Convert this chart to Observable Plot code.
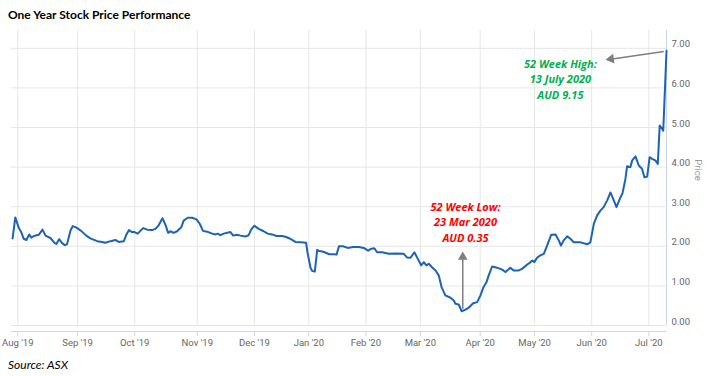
<!DOCTYPE html>
<html><head><meta charset="utf-8">
<script src="https://cdn.jsdelivr.net/npm/d3@7"></script>
<script src="https://cdn.jsdelivr.net/npm/@observablehq/plot@0.6"></script>
<style>
body{margin:0;background:#fff;}
#wrap{width:712px;height:376px;overflow:hidden;}
#title{height:24px;box-sizing:border-box;padding:8px 0 0 8px;font:bold 12px/14px Lato,sans-serif;color:#000;}
#caption{height:20px;box-sizing:border-box;padding:2px 0 0 8px;font:italic 12px/14px Lato,sans-serif;color:#000;}
svg{display:block}
</style></head><body>
<div id="wrap"><div id="title">One Year Stock Price Performance</div><div id="chart"></div><div id="caption">Source: ASX</div></div>
<script>
// trading-day index (0 = 30 Jul 2019) and closing price (AUD)
const dayIdx = [0.1,1.1,2.4,3.2,4.2,5.2,6.2,7.0,7.9,9.7,
11.1,12.2,14.0,15.6,16.2,17.2,18.3,19.3,20.1,21.4,
22.2,23.6,25.3,27.2,28.7,31.2,33.0,34.2,36.1,37.9,
39.1,41.0,41.9,42.9,44.0,44.9,46.1,48.1,49.6,51.4,
52.6,53.8,55.2,56.3,57.3,58.1,59.3,60.6,62.1,63.0,
64.5,66.1,67.7,68.9,70.1,71.6,73.5,74.7,75.5,76.5,
77.7,79.0,80.2,81.2,82.6,83.9,85.7,86.9,87.8,89.0,
90.6,92.4,93.9,95.5,97.1,99.2,100.4,102.2,104.1,106.2,
108.0,108.5,109.6,110.2,111.2,112.1,112.8,114.0,115.5,116.5,
118.2,119.2,120.1,121.6,123.3,125.3,127.4,129.2,130.8,132.0,
133.1,134.1,136.0,137.2,138.4,140.8,143.9,145.1,146.4,147.8,
148.8,150.3,151.3,152.2,153.1,154.3,155.6,156.8,157.8,159.2,
161.1,162.3,162.9,164.1,165.2,166.6,167.8,169.4,170.9,172.1,
173.3,174.3,175.1,176.4,178.2,180.1,181.3,183.1,184.3,186.2,
187.4,189.3,190.2,191.1,191.9,192.9,194.1,195.4,196.6,198.1,
199.7,200.9,201.7,202.7,204.0,205.2,206.4,208.9,211.3,212.5,
213.8,215.0,216.2,217.4,218.7,219.9,220.9,222.1,223.6,224.3,
225.4,226.0,227.2,227.9,229.1,230.3,231.5,232.4,233.4,234.3,
235.2,236.4,237.3,238.0,238.9,239.3,240.5];
const price = [2.20,2.73,2.46,2.37,2.19,2.16,2.30,2.22,2.26,2.29,
2.42,2.27,2.21,2.08,2.06,2.18,2.08,2.03,2.05,2.40,
2.51,2.47,2.39,2.27,2.20,2.13,2.11,2.09,2.13,2.16,
2.11,2.13,2.29,2.41,2.36,2.36,2.32,2.46,2.42,2.41,
2.44,2.53,2.71,2.54,2.34,2.38,2.34,2.38,2.48,2.65,
2.72,2.72,2.68,2.57,2.39,2.37,2.32,2.30,2.32,2.28,
2.32,2.34,2.36,2.27,2.29,2.27,2.25,2.28,2.42,2.52,
2.44,2.38,2.32,2.30,2.26,2.26,2.24,2.19,2.11,2.10,
2.09,1.85,1.47,1.38,1.36,1.91,1.88,1.87,1.83,1.80,
1.80,1.79,2.00,2.00,1.96,1.98,1.98,1.96,1.89,1.94,
1.95,1.85,1.85,1.83,1.81,1.82,1.81,1.72,1.71,1.85,
1.72,1.52,1.60,1.52,1.56,1.47,1.39,1.26,0.97,0.76,
0.70,0.63,0.55,0.53,0.36,0.40,0.45,0.56,0.59,0.76,
0.98,1.09,1.26,1.49,1.46,1.41,1.35,1.46,1.39,1.39,
1.43,1.54,1.58,1.64,1.60,1.71,1.77,1.81,2.02,2.29,
2.30,2.15,2.02,2.15,2.25,2.19,2.10,2.10,2.05,2.10,
2.57,2.78,2.90,2.99,3.16,3.36,3.20,2.99,3.24,3.33,
3.70,4.02,4.00,4.17,4.27,4.04,3.96,3.74,3.76,4.25,
4.21,4.17,4.08,5.05,4.97,4.92,6.94];
const monthTickIdx = [2,24,45,68,89,109,130,150,172,192,213,234];
const monthLabels = ["Aug '19","Sep '19","Oct '19","Nov '19","Dec '19","Jan '20","Feb '20","Mar '20","Apr '20","May '20","Jun '20","Jul '20"];
const priceTicks = [0,1,2,3,4,5,6,7];
const lowNote = ["52 Week Low:","23 Mar 2020","AUD 0.35"];
const highNote = ["52 Week High:","13 July 2020","AUD 9.15"];
// annotation anchors in chart units
const lowNoteAt = [166.6, 2.63];
const highNoteAt = [201.5, 6.24];
const arrowLines = [
  {x1:165.6, y1:0.42, x2:165.6, y2:1.76},
  {x1:239.5, y1:6.92, x2:220.6, y2:6.73}
];
const arrowHeads = [
  {x:165.6, y:1.73, angle:0},
  {x:220.1, y:6.73, angle:-98.4}
];

const series = dayIdx.map((d,i)=>({idx:d, price:price[i]}));
const labelOf = new Map(monthTickIdx.map((d,i)=>[d, monthLabels[i]]));
const axisFont = "Roboto, 'Liberation Sans', sans-serif";
const noteFont = "'Open Sans', Lato, sans-serif";

const chart = Plot.plot({
  width: 712, height: 332,
  marginLeft: 11, marginRight: 46, marginTop: 6, marginBottom: 31,
  style: {fontFamily: axisFont, background: "#fff"},
  x: {domain: [-0.3, 240.5], axis: null},
  y: {domain: [0, 7.45], axis: null},
  marks: [
    Plot.ruleX(monthTickIdx, {stroke: "#e6e6e6", strokeWidth: 1}),
    Plot.ruleY(priceTicks, {stroke: "#e6e6e6", strokeWidth: 1}),
    Plot.ruleY([0], {dy: 6, stroke: "#ccd6eb"}),
    Plot.ruleX([240.5], {stroke: "#ccd6eb"}),
    Plot.axisX(monthTickIdx, {anchor: "bottom", dy: 6, tickSize: 5, tickPadding: 3,
      tickFormat: d => labelOf.get(d), stroke: "#ccd6eb", fill: "#666", fontSize: 9.5, label: null}),
    Plot.axisY(priceTicks, {anchor: "right", tickSize: 0, tickPadding: 5, dy: -4,
      tickFormat: d => d.toFixed(2), fill: "#666", fontSize: 9.5, label: null}),
    Plot.text(["Price"], {frameAnchor: "right", dx: 32, dy: -8, rotate: 90, textAnchor: "middle",
      fill: "#999", fontSize: 9.5}),
    Plot.line(series, {x: "idx", y: "price", stroke: "#1c63b7", strokeWidth: 2, strokeLinejoin: "round"}),
    Plot.link(arrowLines, {x1: "x1", y1: "y1", x2: "x2", y2: "y2", stroke: "#7f7f7f", strokeWidth: 1.5}),
    Plot.dot(arrowHeads, {x: "x", y: "y", rotate: "angle", symbol: "triangle", r: 3.6, fill: "#7f7f7f", stroke: "none"}),
    Plot.text([lowNote.join("\n")], {x: lowNoteAt[0], y: lowNoteAt[1], fill: "#ff0000", fontSize: 11,
      fontWeight: "bold", fontStyle: "italic", fontFamily: noteFont, lineHeight: 1.45, textAnchor: "middle"}),
    Plot.text([highNote.join("\n")], {x: highNoteAt[0], y: highNoteAt[1], fill: "#00b050", fontSize: 11,
      fontWeight: "bold", fontStyle: "italic", fontFamily: noteFont, lineHeight: 1.4, textAnchor: "middle"})
  ]
});
document.getElementById("chart").appendChild(chart);
</script>
</body></html>
